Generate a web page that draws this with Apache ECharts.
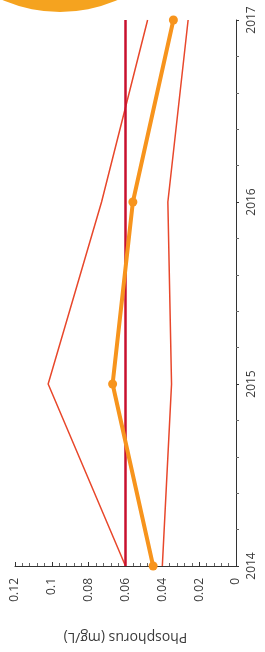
<!DOCTYPE html>
<html>
<head>
<meta charset="utf-8">
<script src="https://cdn.jsdelivr.net/npm/echarts@6/dist/echarts.min.js"></script>
<style>
  html, body { margin: 0; padding: 0; background: #fff; }
  #chart { width: 265px; height: 652px; }
</style>
</head>
<body>
<div id="chart"></div>
<script>
// years run up the right side, phosphorus runs right-to-left along the bottom
var years = [2014, 2015, 2016, 2017];
var phosphorus = [0.045, 0.067, 0.056, 0.034];
var upperBound = [0.060, 0.102, 0.073, 0.048];
var lowerBound = [0.040, 0.035, 0.037, 0.026];
var target = [0.06, 0.06, 0.06, 0.06];
var valueTicks = [0, 0.02, 0.04, 0.06, 0.08, 0.1, 0.12];

function pairs(vals) {
    return vals.map(function (v, i) { return [v, years[i]]; });
}

var myChart = echarts.init(document.getElementById('chart'));
var labelColor = '#3a3a3a';
var font = '"Open Sans", "Noto Sans", sans-serif';

var option = {
    animation: false,
    // decorative disc in the corner
    graphic: [{
        type: 'circle',
        shape: { cx: 60, cy: -132, r: 144 },
        style: { fill: '#f5a31f' },
        z: 0
    }],
    grid: { left: 15, right: 29, top: 20, bottom: 86 },
    xAxis: {
        type: 'value',
        inverse: true,
        min: valueTicks[0],
        max: valueTicks[valueTicks.length - 1],
        interval: 0.02,
        position: 'bottom',
        name: 'Phosphorus (mg/L)',
        nameLocation: 'middle',
        nameRotate: 180,
        nameGap: 64,
        nameTextStyle: { color: labelColor, fontSize: 14, fontFamily: font },
        axisLine: { show: true, lineStyle: { color: '#333', width: 1 } },
        axisTick: { show: true, inside: true, length: 4, lineStyle: { color: '#333' } },
        minorTick: { show: true, splitNumber: 5, length: 3, lineStyle: { color: '#666' } },
        splitLine: { show: false },
        axisLabel: {
            rotate: 90,
            margin: 12,
            color: labelColor,
            fontSize: 12,
            fontFamily: font,
            formatter: function (v) { return String(+v.toFixed(2)); }
        }
    },
    yAxis: {
        type: 'value',
        position: 'right',
        min: years[0],
        max: years[years.length - 1],
        interval: 1,
        axisLine: { show: true, lineStyle: { color: '#333', width: 1 } },
        axisTick: { show: true, length: 3, lineStyle: { color: '#333' } },
        minorTick: { show: true, splitNumber: 5, length: 3, lineStyle: { color: '#666' } },
        splitLine: { show: false },
        axisLabel: {
            rotate: 90,
            margin: 10,
            color: labelColor,
            fontSize: 12,
            fontFamily: font,
            formatter: function (v) { return String(v); }
        }
    },
    series: [{
        name: 'upper',
        type: 'line',
        data: pairs(upperBound),
        symbol: 'none',
        lineStyle: { color: '#e8472b', width: 1.5 },
        z: 2
    }, {
        name: 'lower',
        type: 'line',
        data: pairs(lowerBound),
        symbol: 'none',
        lineStyle: { color: '#e8472b', width: 1.5 },
        z: 2
    }, {
        name: 'target',
        type: 'line',
        data: pairs(target),
        symbol: 'none',
        lineStyle: { color: '#c8102e', width: 2.5 },
        z: 3
    }, {
        name: 'phosphorus',
        type: 'line',
        data: pairs(phosphorus),
        symbol: 'circle',
        symbolSize: 9,
        itemStyle: { color: '#f7941d' },
        lineStyle: { color: '#f7941d', width: 4 },
        z: 4
    }]
};

myChart.setOption(option);
</script>
</body>
</html>
